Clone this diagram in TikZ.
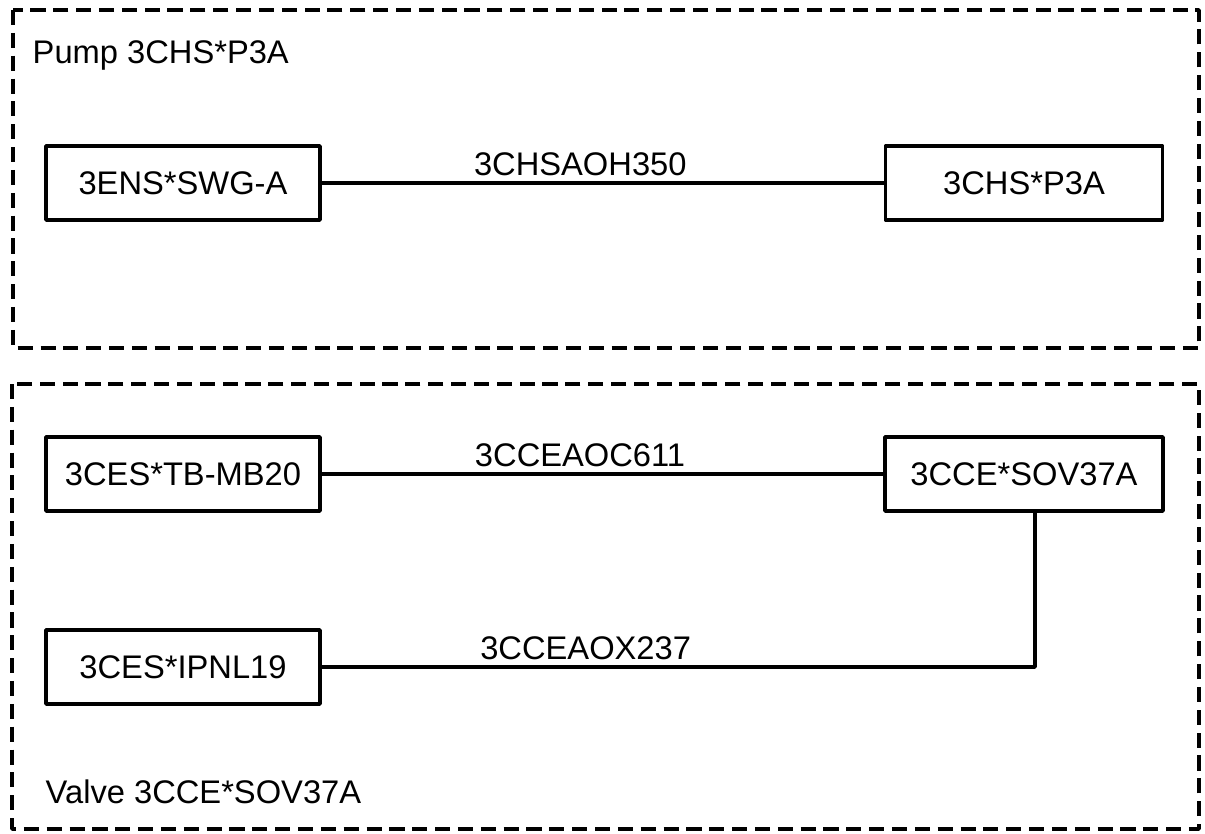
\documentclass[tikz,border=0pt]{standalone}
\usepackage{fontspec}
\setmainfont{Liberation Sans}
\usetikzlibrary{positioning}
\begin{document}
\begin{tikzpicture}[x=0.1mm, y=-0.1mm, line join=round, font=\fontsize{9.3}{11}\selectfont,
	partbox/.style={draw, line width=1pt, minimum width=2.74cm, minimum height=0.74cm, inner sep=0pt},
	groupframe/.style={line width=1pt, dash pattern=on 4.3pt off 2.2pt},
	wire/.style={line width=1pt},
	wirelabel/.style={above, inner sep=1.6pt},
	grouptitle/.style={anchor=base west, inner sep=0pt}]
	\useasboundingbox (0,0) rectangle (1205,833);
	% --- Gruppe Pumpe ---
	\draw[groupframe] (13,10) rectangle (1199,348);
	\node[grouptitle] (pumptitle) at (32,63) {Pump 3CHS*P3A};
	\node[partbox] (swg) at (183,183) {3ENS*SWG-A};
	\node[partbox, minimum width=2.77cm] (p3a) at (1024,183) {3CHS*P3A};
	\draw[wire] (swg) -- node[wirelabel, pos=0.46] (cableA) {3CHSAOH350} (p3a);
	% --- Gruppe Ventil ---
	\draw[groupframe] (12,384) rectangle (1199,829);
	\node[partbox] (tbmb) at (183,474) {3CES*TB-MB20};
	\node[partbox, minimum width=2.78cm] (sov) at (1024,474) {3CCE*SOV37A};
	\node[partbox] (ipnl) at (183,667) {3CES*IPNL19};
	\coordinate (bend) at (1035,667);
	\draw[wire] (tbmb) -- node[wirelabel, pos=0.46] (cableB) {3CCEAOC611} (sov);
	\draw[wire] (ipnl) -- node[wirelabel, pos=0.37] (cableC) {3CCEAOX237} (bend) -- (bend |- sov.south);
	\node[grouptitle] (valvetitle) at (45,803) {Valve 3CCE*SOV37A};
\end{tikzpicture}
\end{document}
